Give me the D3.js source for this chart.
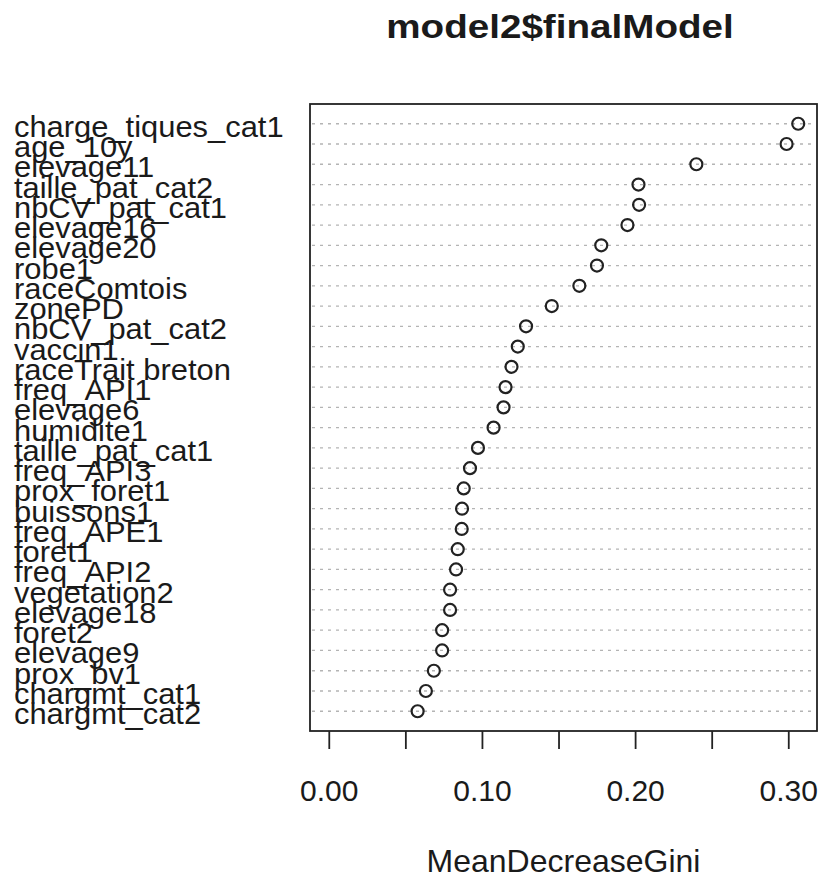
<!DOCTYPE html>
<html>
<head>
<meta charset="utf-8">
<script src="https://cdn.jsdelivr.net/npm/d3@7"></script>
<style>
  html, body { margin: 0; padding: 0; background: #fff; }
  svg { display: block; }
  text { font-family: "Liberation Sans", Arial, sans-serif; fill: #1a1a1a; }
</style>
</head>
<body>
<svg id="chart" width="820" height="883"></svg>
<script>
const title = "model2$finalModel";
const xTitle = "MeanDecreaseGini";
const variables = [
  "charge_tiques_cat1", "age_10y", "elevage11", "taille_pat_cat2", "nbCV_pat_cat1",
  "elevage16", "elevage20", "robe1", "raceComtois", "zonePD",
  "nbCV_pat_cat2", "vaccin1", "raceTrait breton", "freq_API1", "elevage6",
  "humidite1", "taille_pat_cat1", "freq_API3", "prox_foret1", "buissons1",
  "freq_APE1", "foret1", "freq_API2", "vegetation2", "elevage18",
  "foret2", "elevage9", "prox_bv1", "chargmt_cat1", "chargmt_cat2"
];
const meanDecreaseGini = [
  0.3065, 0.2989, 0.2400, 0.2022, 0.2026,
  0.1950, 0.1779, 0.1751, 0.1636, 0.1456,
  0.1288, 0.1234, 0.1193, 0.1154, 0.1141,
  0.1076, 0.0974, 0.0922, 0.0881, 0.0870,
  0.0868, 0.0842, 0.0831, 0.0792, 0.0792,
  0.0740, 0.0740, 0.0686, 0.0634, 0.0580
];
const tickValues = [0, 0.05, 0.10, 0.15, 0.20, 0.25, 0.30];
const tickLabels = ["0.00", "", "0.10", "", "0.20", "", "0.30"];

const svg = d3.select("#chart");
const box = { left: 310, right: 817, top: 104, bottom: 731 };

const maxV = d3.max(meanDecreaseGini);
const x = d3.scaleLinear()
  .domain([-0.04 * maxV, 1.04 * maxV])
  .range([box.left, box.right]);
const y = d3.scalePoint()
  .domain(variables)
  .range([box.top, box.bottom])
  .padding(0.975);

const data = variables.map((v, i) => ({ name: v, value: meanDecreaseGini[i] }));

// dotted guide lines
svg.append("g").selectAll("line")
  .data(data).join("line")
  .attr("x1", box.left + 2).attr("x2", box.right - 2)
  .attr("y1", d => y(d.name)).attr("y2", d => y(d.name))
  .attr("stroke", "#b4b4b4").attr("stroke-width", 1.3)
  .attr("stroke-dasharray", "3,5");

// box
svg.append("rect")
  .attr("x", box.left).attr("y", box.top)
  .attr("width", box.right - box.left).attr("height", box.bottom - box.top)
  .attr("fill", "none").attr("stroke", "#222").attr("stroke-width", 1.8);

// points
svg.append("g").selectAll("circle")
  .data(data).join("circle")
  .attr("cx", d => x(d.value)).attr("cy", d => y(d.name))
  .attr("r", 6)
  .attr("fill", "none").attr("stroke", "#222").attr("stroke-width", 2.2);

// category labels
svg.append("g").selectAll("text")
  .data(data).join("text")
  .attr("transform", d => `translate(14,${y(d.name) + 13}) scale(1.03,1)`)
  .attr("font-size", 30)
  .text(d => d.name);

// x axis
const axis = d3.axisBottom(x)
  .tickValues(tickValues)
  .tickSize(18)
  .tickPadding(0)
  .tickFormat((d, i) => tickLabels[i]);
const gAxis = svg.append("g")
  .attr("transform", `translate(0,${box.bottom})`)
  .call(axis);
gAxis.select(".domain").remove();
gAxis.selectAll(".tick line").attr("stroke", "#222").attr("stroke-width", 1.8);
gAxis.selectAll(".tick text")
  .attr("font-family", "Liberation Sans, Arial, sans-serif")
  .attr("font-size", 30)
  .attr("fill", "#333")
  .attr("dy", null)
  .attr("y", 70);

// title
svg.append("text")
  .attr("transform", `translate(560,38) scale(1.17,1)`)
  .attr("text-anchor", "middle")
  .attr("font-size", 33)
  .attr("font-weight", "bold")
  .attr("fill", "#111")
  .text(title);

// x-axis title
svg.append("text")
  .attr("x", (box.left + box.right) / 2).attr("y", 872)
  .attr("text-anchor", "middle")
  .attr("font-size", 32)
  .attr("fill", "#333")
  .text(xTitle);
</script>
</body>
</html>
